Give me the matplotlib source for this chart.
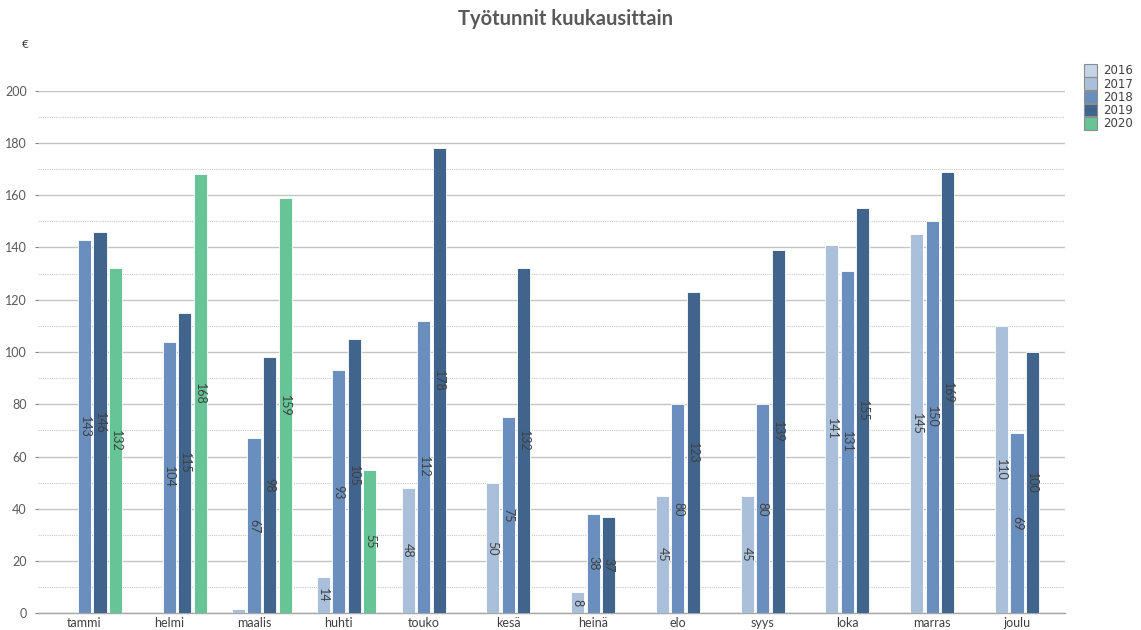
import numpy as np
import matplotlib
matplotlib.use("Agg")
import matplotlib.pyplot as plt
from matplotlib.patches import Patch

plt.rcParams['font.family'] = ['Lato', 'DejaVu Sans']

months = ["tammi", "helmi", "maalis", "huhti", "touko", "kesä",
          "heinä", "elo", "syys", "loka", "marras", "joulu"]
years = ["2016", "2017", "2018", "2019", "2020"]

nan = np.nan
hours_2016 = [nan] * 12
hours_2017 = [nan, nan, 1.5, 14, 48, 50, 8, 45, 45, 141, 145, 110]
hours_2018 = [143, 104, 67, 93, 112, 75, 38, 80, 80, 131, 150, 69]
hours_2019 = [146, 115, 98, 105, 178, 132, 37, 123, 139, 155, 169, 100]
hours_2020 = [132, 168, 159, 55, nan, nan, nan, nan, nan, nan, nan, nan]

series = [hours_2016, hours_2017, hours_2018, hours_2019, hours_2020]
colors = ["#c3d5e7", "#a9bfda", "#6a8fbf", "#41648c", "#66c496"]

fig = plt.figure(figsize=(11.41, 6.30), dpi=100)
ax = fig.add_axes([38 / 1141, 1 - 613.3 / 630, (1065 - 38) / 1141, (613.3 - 90.7) / 630])

x = np.arange(len(months))
slot = 0.183
width = 0.155
for i, (vals, col) in enumerate(zip(series, colors)):
    vals = np.array(vals, dtype=float)
    offs = (i - 2) * slot
    ax.bar(x + offs, np.nan_to_num(vals), width, color=col,
           edgecolor="white", linewidth=0.6, zorder=3)
    for xi, v in zip(x, vals):
        if np.isnan(v) or v < 5:
            continue
        ax.text(xi + offs, v / 2, f"{v:.0f}", rotation=-90, ha="center",
                va="center", fontsize=9, color="#404040", zorder=4)

ax.set_xlim(-0.549, 11.567)
ax.set_ylim(0, 200)
ax.set_yticks(np.arange(0, 201, 20))
ax.set_yticks(np.arange(10, 200, 20), minor=True)
ax.yaxis.grid(True, which="major", color="#c4c4c4", linewidth=1.0, zorder=0)
ax.yaxis.grid(True, which="minor", color="#c8c8c8", linewidth=0.8,
              linestyle=(0, (1, 1)), zorder=0)
ax.set_xticks(x)
ax.set_xticklabels(months, fontsize=9, color="#404040")
ax.tick_params(axis="x", length=0, pad=3)
ax.tick_params(axis="y", which="major", length=2, color="#808080",
               labelsize=9, labelcolor="#595959", pad=6)
ax.tick_params(axis="y", which="minor", length=0)
for s in ["top", "right", "left"]:
    ax.spines[s].set_visible(False)
ax.spines["bottom"].set_color("#a6a6a6")
ax.spines["bottom"].set_linewidth(1.0)

fig.text(25 / 1141, 1 - 45 / 630, "€", fontsize=8.5, color="#404040",
         ha="center", va="center")
fig.text(566 / 1141, 1 - 19 / 630, "Työtunnit kuukausittain", fontsize=14.5,
         fontweight="bold", color="#595959", ha="center", va="center")

handles = [Patch(facecolor=c, edgecolor="#8c8c8c", linewidth=0.8) for c in colors]
leg = fig.legend(handles, years, loc="upper left",
                 bbox_to_anchor=(1076 / 1141, 1 - 56 / 630), frameon=False,
                 handlelength=1.1, handleheight=1.25,
                 labelspacing=0.0, handletextpad=0.5, borderpad=0.2,
                 prop={"family": "DejaVu Sans", "size": 8.5})
for t in leg.get_texts():
    t.set_color("#404040")

fig.savefig("out.png", dpi=100)
